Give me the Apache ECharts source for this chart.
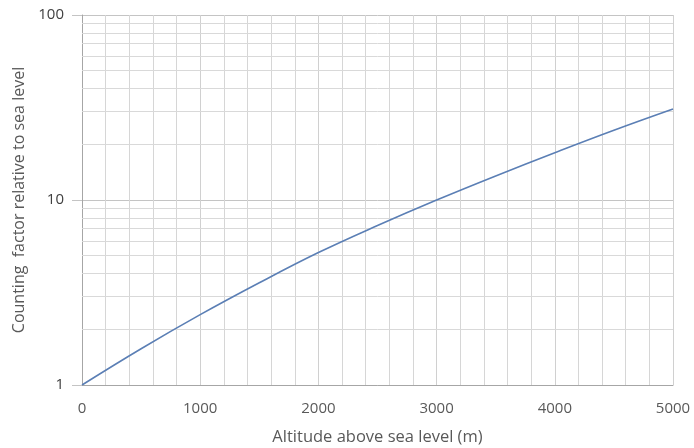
<!DOCTYPE html>
<html>
<head>
<meta charset="utf-8">
<script src="https://cdn.jsdelivr.net/npm/echarts@6/dist/echarts.min.js"></script>
<style>
html, body { margin: 0; padding: 0; background: #fff; }
#chart { width: 694px; height: 448px; }
</style>
</head>
<body>
<div id="chart"></div>
<script>
var altitude = [0, 500, 1000, 1500, 2000, 2500, 3000, 3500, 4000, 4500, 5000];
var factor = [1, 1.57, 2.4, 3.57, 5.2, 7.28, 10, 13.5, 18.0, 23.8, 31];
var yMinorLines = [2, 3, 4, 5, 6, 7, 8, 9, 20, 30, 40, 50, 60, 70, 80, 90];

var chart = echarts.init(document.getElementById('chart'));

var points = [];
for (var i = 0; i < altitude.length; i++) {
    points.push([altitude[i], factor[i]]);
}

var minorData = [];
for (var j = 0; j < yMinorLines.length; j++) {
    minorData.push({ yAxis: yMinorLines[j] });
}

var textFont = '"Open Sans", "DejaVu Sans", sans-serif';

var option = {
    animation: false,
    backgroundColor: '#ffffff',
    grid: {
        left: 82,
        right: 21,
        top: 15,
        bottom: 63,
        containLabel: false,
        outerBoundsMode: 'none'
    },
    xAxis: {
        type: 'value',
        min: 0,
        max: 5000,
        interval: 1000,
        name: 'Altitude above sea level (m)',
        nameLocation: 'middle',
        nameGap: 44,
        nameTextStyle: { color: '#595959', fontSize: 16.5, fontFamily: textFont },
        axisLine: { show: true, lineStyle: { color: '#a6a6a6' } },
        axisTick: { show: false },
        axisLabel: {
            color: '#595959', fontSize: 15, fontFamily: textFont, margin: 16,
            formatter: function (v) { return String(v); }
        },
        splitLine: { show: true, lineStyle: { color: '#d0d0d0' } },
        minorTick: { show: false, splitNumber: 5 },
        minorSplitLine: { show: true, lineStyle: { color: '#d6d6d6' } }
    },
    yAxis: {
        type: 'log',
        logBase: 10,
        min: 1,
        max: 100,
        name: 'Counting  factor relative to sea level',
        nameLocation: 'middle',
        nameGap: 54,
        nameTextStyle: { color: '#595959', fontSize: 16, fontFamily: textFont },
        axisLine: { show: true, lineStyle: { color: '#a6a6a6' } },
        axisTick: { show: true, length: 10, inside: false, lineStyle: { color: '#c4c4c4' } },
        axisLabel: { color: '#404040', fontSize: 15, fontFamily: textFont, margin: 18 },
        splitLine: { show: true, lineStyle: { color: '#c4c4c4' } }
    },
    series: [{
        // minor log grid lines
        type: 'line',
        data: [],
        z: 1,
        markLine: {
            silent: true,
            symbol: 'none',
            label: { show: false },
            lineStyle: { color: '#d9d9d9', type: 'solid', width: 1 },
            data: minorData
        }
    }, {
        type: 'line',
        data: points,
        z: 5,
        smooth: 0.4,
        symbol: 'none',
        lineStyle: { color: '#5b7fb5', width: 1.6 }
    }]
};

chart.setOption(option);
</script>
</body>
</html>
